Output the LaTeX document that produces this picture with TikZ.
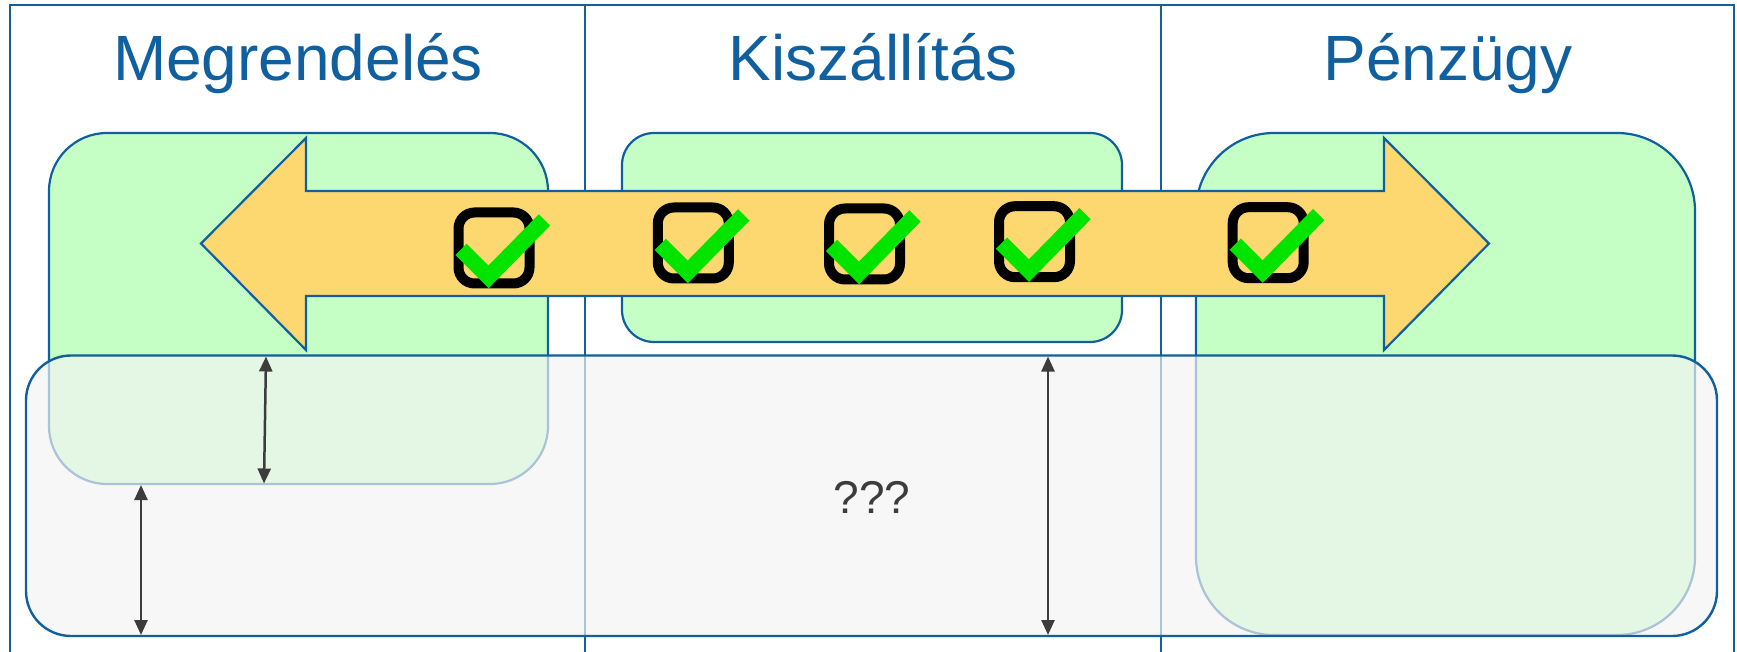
\documentclass[tikz,border=0pt]{standalone}
\usepackage{fontspec}
\setmainfont{Liberation Sans}
\usetikzlibrary{arrows.meta}
\definecolor{frameblue}{HTML}{10609F}
\definecolor{greenfill}{HTML}{C6FFC6}
\definecolor{orangefill}{HTML}{FDD870}
\definecolor{grayfill}{HTML}{F3F3F3}
\definecolor{checkgreen}{HTML}{00E400}
\definecolor{dimgray}{HTML}{3C3C3C}
\begin{document}
\begin{tikzpicture}[x=1pt,y=-1pt,
  frameline/.style={draw=frameblue,line width=2.2pt},
  gbox/.style={rectangle,draw=frameblue,line width=2.2pt,fill=greenfill,inner sep=0pt},
  graybox/.style={rectangle,draw=frameblue,line width=2.4pt,fill=grayfill,fill opacity=0.68,draw opacity=1,inner sep=0pt,rounded corners=45pt},
  bigarrow/.style={draw=frameblue,line width=2.2pt,fill=orangefill,line join=miter},
  cbox/.style={rectangle,draw=black,line width=10pt,minimum size=71pt,inner sep=0pt,rounded corners=16pt},
  checkmark/.style={draw=checkgreen,line width=16pt,line cap=butt,line join=miter},
  dimarrow/.style={draw=dimgray,line width=2.5pt,{Triangle[length=15pt,width=13pt]}-{Triangle[length=15pt,width=13pt]}},
  title/.style={text=frameblue,font=\fontsize{64}{70}\selectfont,anchor=base,inner sep=0pt},
  qtext/.style={text=dimgray,font=\fontsize{46}{50}\selectfont,anchor=base,inner sep=0pt}]
\useasboundingbox (0,0) rectangle (1737,652);
% frame
\draw[frameline] (10,652) -- (10,5) -- (1734,5) -- (1734,652);
\draw[frameline] (585,5) -- (585,652);
\draw[frameline] (1161,5) -- (1161,652);
% titles
\node[title] (t1) at (298,81) {Megrendelés};
\node[title] (t2) at (873,81) {Kiszállítás};
\node[title] (t3) at (1448,81) {Pénzügy};
% green boxes
\node[gbox,minimum width=499pt,minimum height=351pt,rounded corners=58pt] (g1) at (298.5,308.5) {};
\node[gbox,minimum width=500pt,minimum height=209pt,rounded corners=32pt] (g2) at (872,237.5) {};
\node[gbox,minimum width=499pt,minimum height=502pt,rounded corners=78pt] (g3) at (1445.5,384) {};
% double arrow
\path[bigarrow] (201,243.5) -- (306,138) -- (306,191) -- (1384,191) -- (1384,138)
  -- (1489,243.5) -- (1384,350) -- (1384,296) -- (306,296) -- (306,350) -- cycle;
% checkboxes
\foreach \n/\cx/\cy in {1/494/248,2/693.3/243,3/864.5/244,4/1034.5/241.7,5/1268.2/242.7}{
  \node[cbox] (c\n) at (\cx,\cy) {};
  \draw[checkmark] ([shift={(-33,1.4)}]c\n.center) -- ([shift={(-5.5,28.9)}]c\n.center) -- ([shift={(50.5,-28.1)}]c\n.center);
}
% gray box
\node[graybox,minimum width=1691pt,minimum height=280.5pt] (gray) at (871.5,495.75) {};
% dimension arrows
\coordinate (a1) at (266,356.5);
\coordinate (a2) at (264,483.5);
\coordinate (b1) at (141,485);
\coordinate (b2) at (141,635);
\coordinate (d1) at (1048,356.5);
\coordinate (d2) at (1048,635);
\draw[dimarrow] (a1) -- (a2);
\draw[dimarrow] (b1) -- (b2);
\draw[dimarrow] (d1) -- (d2);
% text
\node[qtext] (q) at (872,513) {???};
\end{tikzpicture}
\end{document}
